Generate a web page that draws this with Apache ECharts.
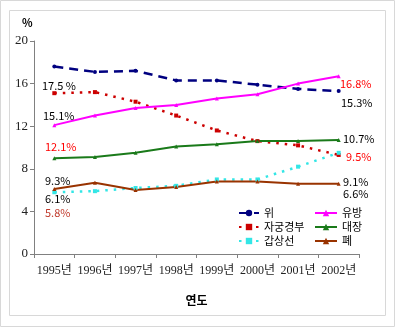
<!DOCTYPE html>
<html><head><meta charset="utf-8">
<script src="https://cdn.jsdelivr.net/npm/echarts@6/dist/echarts.min.js"></script>
<style>html,body{margin:0;padding:0;background:#fff}#c{width:395px;height:327px}</style>
</head><body><div id="c"></div>
<script>
var years = ['1995년','1996년','1997년','1998년','1999년','2000년','2001년','2002년'];
var stomach = [17.6, 17.1, 17.2, 16.3, 16.3, 15.9, 15.5, 15.3];
var breast = [12.1, 13.0, 13.7, 14.0, 14.6, 15.0, 16.0, 16.7];
var cervix = [15.1, 15.2, 14.3, 13.0, 11.6, 10.6, 10.2, 9.3];
var colon = [9.0, 9.1, 9.5, 10.1, 10.3, 10.6, 10.6, 10.7];
var thyroid = [5.8, 5.9, 6.2, 6.4, 7.0, 7.0, 8.2, 9.5];
var lung = [6.1, 6.7, 6.0, 6.3, 6.8, 6.8, 6.6, 6.6];
var yTicks = [0, 4, 8, 12, 16, 20];

var notes = [
  ['17.5 %', 42, 86, '#000'], ['15.1%', 43, 116, '#000'], ['12.1%', 45, 147, '#ff0000'],
  ['9.3%', 45, 181, '#000'], ['6.1%', 45, 199, '#000'], ['5.8%', 45, 213, '#c0392b'],
  ['16.8%', 340, 84, '#ff0000'], ['15.3%', 341, 103, '#000'], ['10.7%', 343, 139, '#000'],
  ['9.5%', 346, 157, '#ff0000'], ['9.1%', 343, 182, '#000'], ['6.6%', 343, 194, '#000']
];

var chart = echarts.init(document.getElementById('c'));
var sans = '"Noto Sans CJK KR", "DejaVu Sans", sans-serif';
var serif = '"Liberation Serif", "Noto Sans CJK KR", serif';
function ser(name, data, color, type, width, sym) {
  return {name: name, type: 'line', data: data, symbol: sym || 'triangle', symbolSize: 4,
    itemStyle: {color: color}, lineStyle: {color: color, width: width, type: type}, z: 3};
}
var graphics = [
  {type: 'rect', shape: {x: 0.5, y: 0.5, width: 394, height: 326}, style: {fill: 'none', stroke: '#d8d8d8', lineWidth: 1}},
  {type: 'rect', shape: {x: 9.5, y: 10.5, width: 376, height: 305}, style: {fill: 'none', stroke: '#d8d8d8', lineWidth: 1}},
  {type: 'text', x: 22, y: 17, style: {text: '%', font: 'bold 11px ' + sans, fill: '#000'}}
];
notes.forEach(function (n) {
  graphics.push({type: 'text', x: n[1], y: n[2], style: {text: n[0], font: '11px ' + sans, fill: n[3], textVerticalAlign: 'middle'}, z: 10});
});
chart.setOption({
  animation: false,
  grid: {left: 34, right: 36, top: 41, bottom: 73},
  graphic: graphics,
  legend: [
    {orient: 'vertical', left: 233, top: 202, itemWidth: 20, itemHeight: 8, itemGap: 2,
      textStyle: {fontFamily: sans, fontSize: 11, color: '#000', lineHeight: 12},
      data: ['위', '자궁경부', '갑상선']},
    {orient: 'vertical', left: 309, top: 202, itemWidth: 22, itemHeight: 8, itemGap: 2,
      textStyle: {fontFamily: sans, fontSize: 11, color: '#000', lineHeight: 12},
      data: ['유방', '대장', '폐']}
  ],
  xAxis: {type: 'category', data: years, boundaryGap: true,
    name: '연도', nameLocation: 'middle', nameGap: 40,
    nameTextStyle: {fontFamily: sans, fontSize: 12, fontWeight: 'bold', color: '#000'},
    axisLine: {lineStyle: {color: '#808080'}},
    axisTick: {show: true, length: 4, interval: 0, lineStyle: {color: '#808080'}},
    axisLabel: {fontFamily: serif, fontSize: 12, color: '#222', margin: 11, interval: 0}},
  yAxis: {type: 'value', min: 0, max: 20, interval: 4,
    splitLine: {show: false},
    axisLine: {show: true, lineStyle: {color: '#808080'}},
    axisTick: {show: true, length: 4, lineStyle: {color: '#808080'}},
    axisLabel: {fontFamily: serif, fontSize: 13, color: '#222', margin: 6,
      formatter: function (v) { return yTicks.indexOf(v) >= 0 ? String(v) : ''; }}},
  series: [
    ser('위', stomach, '#000080', [9, 6], 2.5, 'circle'),
    ser('자궁경부', cervix, '#cc0000', [2.5, 6], 2.5, 'rect'),
    ser('갑상선', thyroid, '#33e6e6', [2.5, 6], 2.5, 'rect'),
    ser('유방', breast, '#ff00ff', 'solid', 2, 'triangle'),
    ser('대장', colon, '#1a7a1a', 'solid', 2, 'triangle'),
    ser('폐', lung, '#993300', 'solid', 2, 'triangle')
  ]
});
</script></body></html>
